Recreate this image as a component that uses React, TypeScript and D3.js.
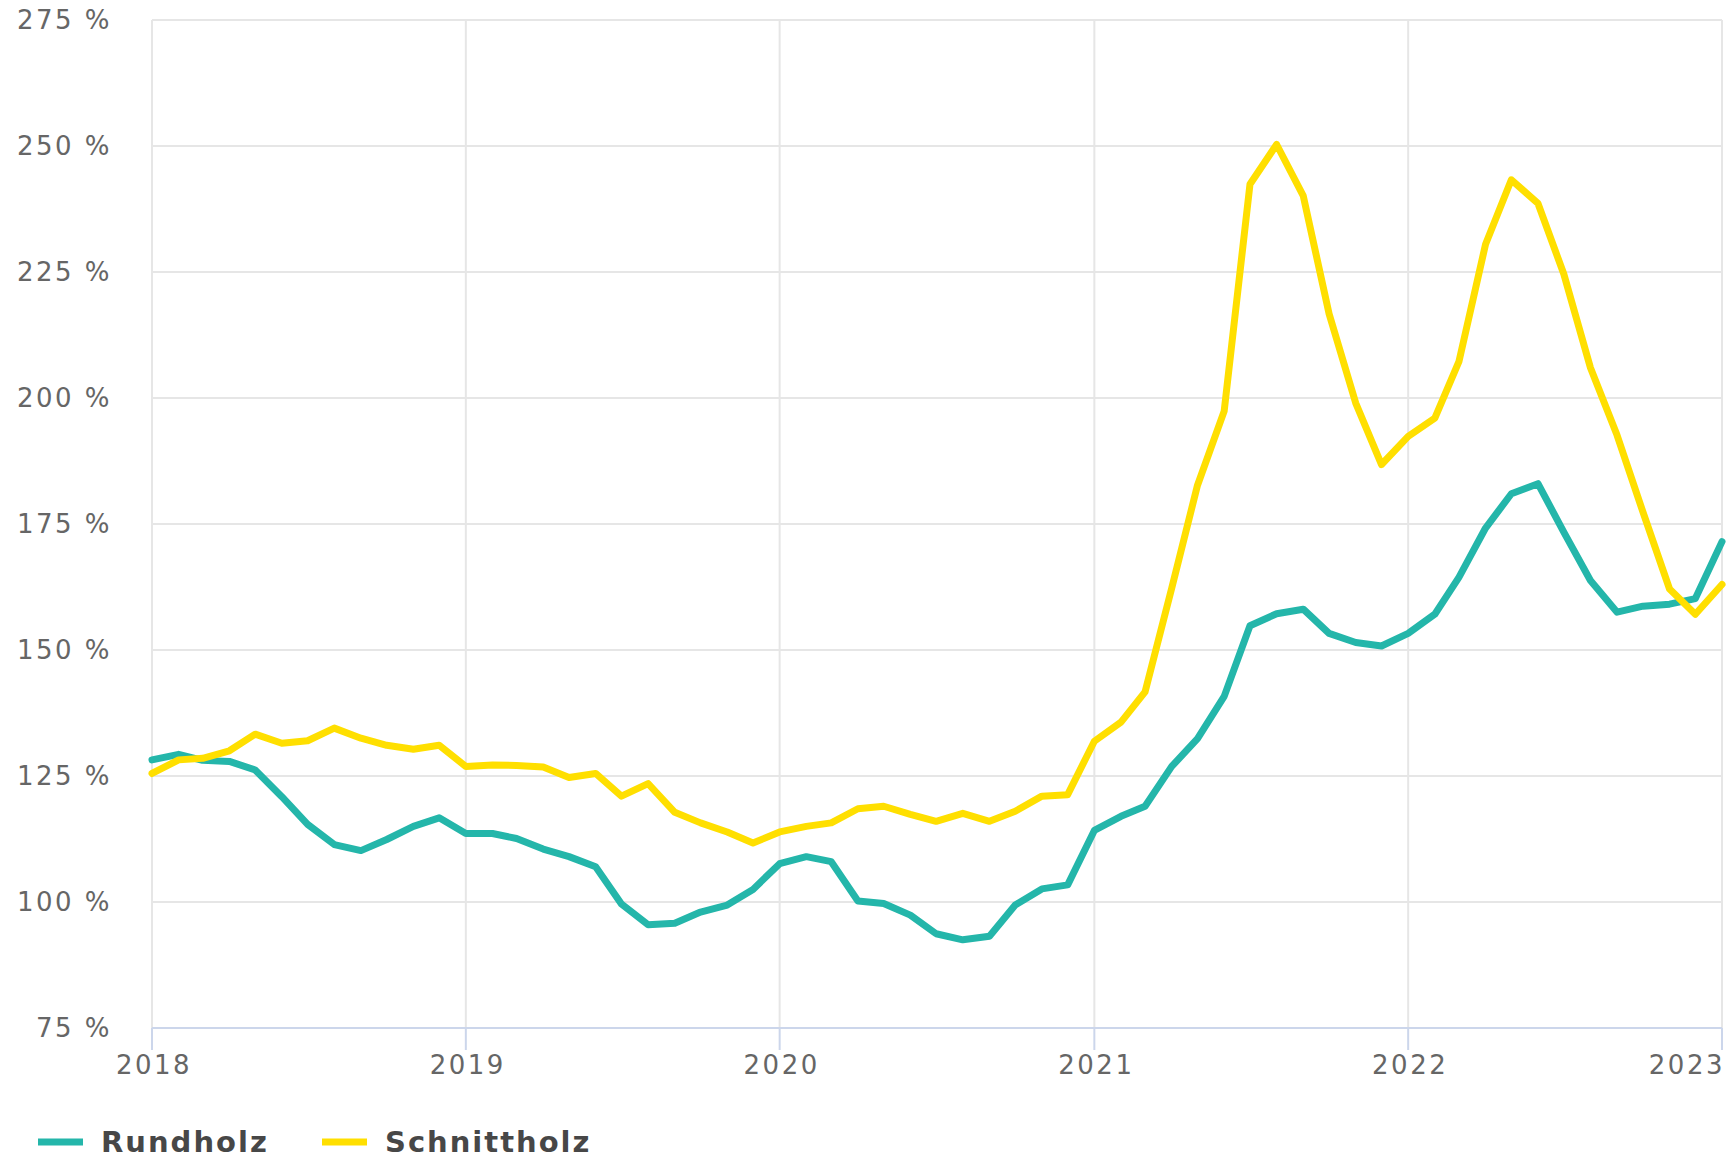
import { useRef, useEffect } from "react"
import * as d3 from "d3"

// monthly index values, Jan 2018 .. Jan 2023
const months = [
  "2018-01", "2018-02", "2018-03", "2018-04", "2018-05", "2018-06", "2018-07", "2018-08", "2018-09", "2018-10", "2018-11", "2018-12",
  "2019-01", "2019-02", "2019-03", "2019-04", "2019-05", "2019-06", "2019-07", "2019-08", "2019-09", "2019-10", "2019-11", "2019-12",
  "2020-01", "2020-02", "2020-03", "2020-04", "2020-05", "2020-06", "2020-07", "2020-08", "2020-09", "2020-10", "2020-11", "2020-12",
  "2021-01", "2021-02", "2021-03", "2021-04", "2021-05", "2021-06", "2021-07", "2021-08", "2021-09", "2021-10", "2021-11", "2021-12",
  "2022-01", "2022-02", "2022-03", "2022-04", "2022-05", "2022-06", "2022-07", "2022-08", "2022-09", "2022-10", "2022-11", "2022-12",
  "2023-01",
]

const rundholz = [
  128.2, 129.3, 128.1, 127.9, 126.2, 120.9, 115.4, 111.4, 110.2, 112.4, 115.0, 116.7,
  113.6, 113.6, 112.6, 110.5, 109.0, 107.0, 99.6, 95.5, 95.8, 98.0, 99.4, 102.5,
  107.6, 109.0, 108.0, 100.2, 99.7, 97.4, 93.7, 92.5, 93.2, 99.4, 102.6, 103.4,
  114.2, 117.0, 119.0, 126.9, 132.4, 140.8, 154.8, 157.2, 158.1, 153.3, 151.5, 150.8,
  153.3, 157.1, 164.4, 174.2, 181.0, 183.0, 173.4, 163.8, 157.5, 158.7, 159.1, 160.2,
  171.5,
]

const schnittholz = [
  125.5, 128.2, 128.5, 130.0, 133.3, 131.5, 132.0, 134.5, 132.5, 131.1, 130.3, 131.1,
  126.9, 127.2, 127.1, 126.8, 124.7, 125.5, 121.0, 123.5, 117.8, 115.7, 113.9, 111.7,
  113.9, 115.0, 115.7, 118.5, 119.0, 117.4, 116.0, 117.6, 116.0, 118.0, 121.0, 121.3,
  131.9, 135.7, 141.7, 162.3, 182.7, 197.4, 242.4, 250.3, 240.1, 216.7, 199.0, 186.8,
  192.4, 196.0, 207.2, 230.5, 243.3, 238.6, 224.6, 206.0, 192.6, 177.4, 162.1, 157.1,
  163.0,
]

const yTicks = [75, 100, 125, 150, 175, 200, 225, 250, 275]
const xTickYears = [2018, 2019, 2020, 2021, 2022, 2023]

const seriesNames = ["Rundholz", "Schnittholz"]
const seriesColors = ["#24b6aa", "#ffdf00"]

const W = 1730
const H = 1159
const margin = { top: 20, right: 8, bottom: 131, left: 152 }

const App = () => {
  const svgRef = useRef<SVGSVGElement>(null)

  useEffect(() => {
    const svg = d3.select(svgRef.current)
    svg.selectAll("*").remove()

    const parse = d3.timeParse("%Y-%m")
    const dates = months.map((m) => parse(m) as Date)

    const x = d3
      .scaleTime()
      .domain([new Date(2018, 0, 1), new Date(2023, 0, 1)])
      .range([margin.left, W - margin.right])
    const y = d3
      .scaleLinear()
      .domain([75, 275])
      .range([H - margin.bottom, margin.top])

    const font = "'DejaVu Sans', Verdana, sans-serif"

    // horizontal grid
    svg
      .append("g")
      .selectAll("line")
      .data(yTicks.filter((t) => t !== 75))
      .join("line")
      .attr("x1", margin.left)
      .attr("x2", W - margin.right)
      .attr("y1", (d) => y(d))
      .attr("y2", (d) => y(d))
      .attr("stroke", "#e6e6e6")
      .attr("stroke-width", 2)

    // vertical grid at years
    svg
      .append("g")
      .selectAll("line")
      .data(xTickYears)
      .join("line")
      .attr("x1", (d) => x(new Date(d, 0, 1)))
      .attr("x2", (d) => x(new Date(d, 0, 1)))
      .attr("y1", margin.top)
      .attr("y2", H - margin.bottom)
      .attr("stroke", "#e6e6e6")
      .attr("stroke-width", 2)

    // x axis line + ticks
    svg
      .append("line")
      .attr("x1", margin.left)
      .attr("x2", W - margin.right)
      .attr("y1", y(75))
      .attr("y2", y(75))
      .attr("stroke", "#ccd6eb")
      .attr("stroke-width", 2)

    svg
      .append("g")
      .selectAll("line")
      .data(xTickYears)
      .join("line")
      .attr("x1", (d) => x(new Date(d, 0, 1)))
      .attr("x2", (d) => x(new Date(d, 0, 1)))
      .attr("y1", y(75))
      .attr("y2", y(75) + 22)
      .attr("stroke", "#ccd6eb")
      .attr("stroke-width", 2)

    // y labels
    svg
      .append("g")
      .selectAll("text")
      .data(yTicks)
      .join("text")
      .attr("x", 112)
      .attr("y", (d) => y(d) + 9)
      .attr("text-anchor", "end")
      .style("font-family", font)
      .style("font-size", "26px")
      .style("letter-spacing", "2.5px")
      .style("fill", "#666666")
      .text((d) => `${d} %`)

    // x labels
    svg
      .append("g")
      .selectAll("text")
      .data(xTickYears)
      .join("text")
      .attr("x", (d, i) => x(new Date(d, 0, 1)) + (i === xTickYears.length - 1 ? 3 : 2))
      .attr("y", y(75) + 46)
      .attr("text-anchor", (d, i) => (i === xTickYears.length - 1 ? "end" : "middle"))
      .style("font-family", font)
      .style("font-size", "26px")
      .style("letter-spacing", "2.5px")
      .style("fill", "#666666")
      .text((d) => d)

    // lines
    const line = d3
      .line<number>()
      .x((d, i) => x(dates[i]))
      .y((d) => y(d))

    const plot = svg.append("g")
    ;[rundholz, schnittholz].forEach((values, k) => {
      plot
        .append("path")
        .datum(values)
        .attr("fill", "none")
        .attr("stroke", seriesColors[k])
        .attr("stroke-width", 7)
        .attr("stroke-linejoin", "round")
        .attr("stroke-linecap", "round")
        .attr("d", line)
    })

    // legend
    const legendX = [38, 322]
    const legend = svg
      .append("g")
      .selectAll("g")
      .data(seriesNames)
      .join("g")
      .attr("transform", (d, i) => `translate(${legendX[i]},1142)`)

    legend
      .append("line")
      .attr("x1", 0)
      .attr("x2", 45)
      .attr("y1", 0)
      .attr("y2", 0)
      .attr("stroke", (d, i) => seriesColors[i])
      .attr("stroke-width", 7)

    legend
      .append("text")
      .attr("x", 63)
      .attr("y", 10)
      .style("font-family", font)
      .style("font-size", "29px")
      .style("font-weight", "bold")
      .style("letter-spacing", "2px")
      .style("fill", "#474747")
      .text((d) => d)
  }, [])

  return (
    <div style={{ position: "absolute", left: 0, top: 0 }}>
      <svg ref={svgRef} width={W} height={H} style={{ display: "block", background: "#fff" }}></svg>
    </div>
  )
}

export default App
